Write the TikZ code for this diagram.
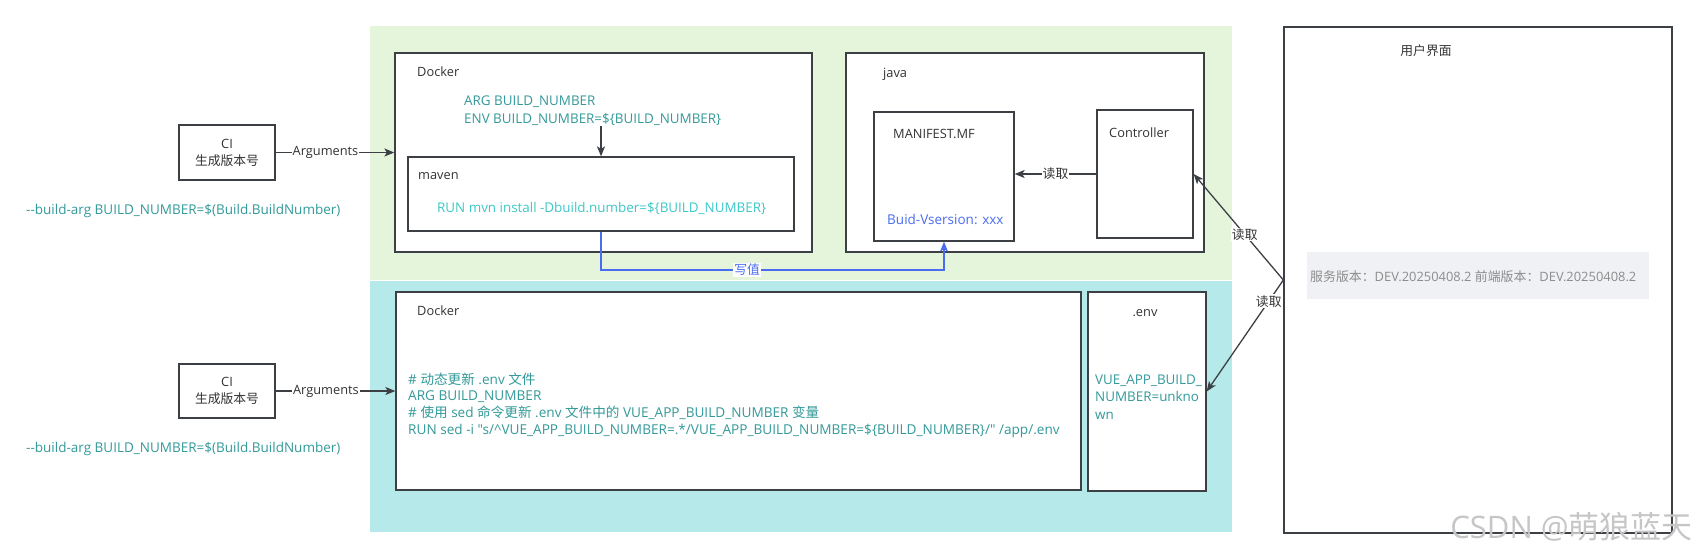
\documentclass[tikz,border=0pt]{standalone}
\usepackage{fontspec}
\setmainfont{Open Sans}
\newfontfamily\osplain{Open Sans}
\newfontfamily\cjk{Noto Sans CJK SC}
\usetikzlibrary{arrows.meta}
\definecolor{bggreen}{HTML}{E4F5DB}
\definecolor{bgcyan}{HTML}{B6E9E9}
\definecolor{edgecol}{HTML}{3C4045}
\definecolor{codeteal}{HTML}{339999}
\definecolor{codecyan}{HTML}{3CC8C8}
\definecolor{blueline}{HTML}{4A6CF0}
\definecolor{txtcol}{HTML}{333333}
\definecolor{uitext}{HTML}{8C8C8C}
\definecolor{uiband}{HTML}{F0F1F5}
\begin{document}
\begin{tikzpicture}[x=1pt,y=-1pt,
  box/.style={draw=edgecol, line width=1.3pt, fill=white, inner sep=0pt},
  lbl/.style={text=txtcol, inner sep=0pt, font=\fontsize{12.8pt}{17pt}\selectfont},
  code/.style={text=codeteal, inner sep=0pt, align=left, font=\fontsize{13.5pt}{17pt}\selectfont},
  conn/.style={draw=edgecol, line width=1.3pt, -{Stealth[length=10pt,width=8pt,inset=2.5pt]}},
  elbl/.style={fill=white, text=txtcol, inner sep=1pt, font=\fontsize{12.8pt}{14pt}\selectfont}
]
\useasboundingbox (0,0) rectangle (1696,558);
% background bands
\fill[bggreen] (370,26) rectangle (1232,279.5);
\fill[bgcyan] (370,281) rectangle (1232,532);

% CI boxes
\node[box, minimum width=96pt, minimum height=55pt, align=center, text=txtcol,
      font=\fontsize{12.8pt}{17pt}\selectfont] (ciA) at (227,152.5) {CI\\{\cjk 生成版本号}};
\node[box, minimum width=96pt, minimum height=54pt, align=center, text=txtcol,
      font=\fontsize{12.8pt}{17pt}\selectfont] (ciB) at (227,391) {CI\\{\cjk 生成版本号}};
\node[code, anchor=west] (bargA) at (26,211) {-{}-build-arg BUILD\_NUMBER=\$(Build.BuildNumber)};
\node[code, anchor=west] (bargB) at (26,449) {-{}-build-arg BUILD\_NUMBER=\$(Build.BuildNumber)};

% top docker
\node[box, minimum width=417pt, minimum height=199pt] (dockerA) at (603.5,152.5) {};
\node[lbl, anchor=west] (dockerAl) at (417,72) {Docker};
\node[code, anchor=west, font=\fontsize{13.4pt}{18pt}\selectfont] (argtxt) at (464,111) {ARG BUILD\_NUMBER\\ENV BUILD\_NUMBER=\$\{BUILD\_NUMBER\}};
\node[box, minimum width=386pt, minimum height=74pt] (maven) at (601,194) {};
\node[lbl, anchor=west] (mavenl) at (418,176) {maven};
\node[code, anchor=west, text=codecyan, font=\fontsize{13.4pt}{17pt}\selectfont] (mvntxt) at (437,208) {RUN mvn install -Dbuild.number=\$\{BUILD\_NUMBER\}};

% java
\node[box, minimum width=358pt, minimum height=199pt] (java) at (1025,152.5) {};
\node[lbl, anchor=west] (javal) at (883,74) {java};
\node[box, minimum width=140pt, minimum height=129pt] (manifest) at (944,176.5) {};
\node[lbl, anchor=west] (manifestl) at (893,134) {MANIFEST.MF};
\node[code, anchor=west, text=blueline] (buidtxt) at (887,219) {Buid-Vsersion: xxx};
\node[box, minimum width=96pt, minimum height=128pt] (controller) at (1145,174) {};
\node[lbl, anchor=west] (controllerl) at (1109,133) {Controller};

% bottom docker
\node[box, minimum width=685pt, minimum height=198pt] (dockerB) at (738.5,391) {};
\node[lbl, anchor=west] (dockerBl) at (417,311) {Docker};
\node[code, anchor=west, font=\fontsize{13.6pt}{16.7pt}\selectfont] (sedtxt) at (408,405)
  {\# {\cjk 动态更新} .env {\cjk 文件}\\
   ARG BUILD\_NUMBER\\
   \# {\cjk 使用} sed {\cjk 命令更新} .env {\cjk 文件中的} VUE\_APP\_BUILD\_NUMBER {\cjk 变量}\\
   {\osplain RUN sed -i "s/\textasciicircum VUE\_APP\_BUILD\_NUMBER=.*/VUE\_APP\_BUILD\_NUMBER=\$\{BUILD\_NUMBER\}/" /app/.env}};
\node[box, minimum width=118pt, minimum height=199pt] (envbox) at (1147,391.5) {};
\node[lbl] (envl) at (1145,313) {.env};
\node[code, anchor=west, font=\fontsize{13.4pt}{17.5pt}\selectfont] (envtxt) at (1095,397) {VUE\_APP\_BUILD\_\\NUMBER=unkno\\wn};

% UI
\node[box, minimum width=388pt, minimum height=506pt] (ui) at (1478,280) {};
\node[lbl, font=\cjk\fontsize{12.8pt}{17pt}\selectfont] (uil) at (1426,51) {用户界面};
\node[fill=uiband, minimum width=342pt, minimum height=47pt, inner sep=0pt] (band) at (1478,275.5) {};
\node[anchor=west, inner sep=0pt, text=uitext, font=\fontsize{12.9pt}{14pt}\selectfont] (bandtxt) at (1310,277)
  {{\cjk 服务版本：}DEV.20250408.2 {\cjk 前端版本：}DEV.20250408.2};

% connectors
\draw[conn] (ciA.east) -- node[elbl, pos=0.42] {Arguments} (ciA.east -| dockerA.west);
\draw[conn] (ciB.east) -- node[elbl, pos=0.42] {Arguments} (ciB.east -| dockerB.west);
\draw[conn] (argtxt.south -| maven.north) -- (maven.north);
\coordinate (bend) at (maven.south |- 0,270);
\draw[line width=1.3pt, draw=blueline, -{Stealth[length=10pt,width=8pt,inset=2.5pt]}]
  (maven.south) -- (bend) -| node[pos=0.213, fill=white, text=blueline, inner sep=1pt,
  font=\cjk\fontsize{12.8pt}{14pt}\selectfont] {写值} (manifest.south);
\draw[conn] (controller.west) -- node[elbl, font=\cjk\fontsize{12.8pt}{14pt}\selectfont] {读取} (controller.west -| manifest.east);
\draw[conn] (ui.west) -- node[elbl, pos=0.43, font=\cjk\fontsize{12.8pt}{14pt}\selectfont] {读取} (controller.east);
\draw[conn] (ui.west) -- node[elbl, pos=0.19, font=\cjk\fontsize{12.8pt}{14pt}\selectfont] {读取} (envbox.east);

% watermark
\node[anchor=east, inner sep=0pt, text=gray!45, font=\fontsize{31pt}{31pt}\selectfont] (wm) at (1693,527) {CSDN @{\cjk 萌狼蓝天}};
\end{tikzpicture}
\end{document}
